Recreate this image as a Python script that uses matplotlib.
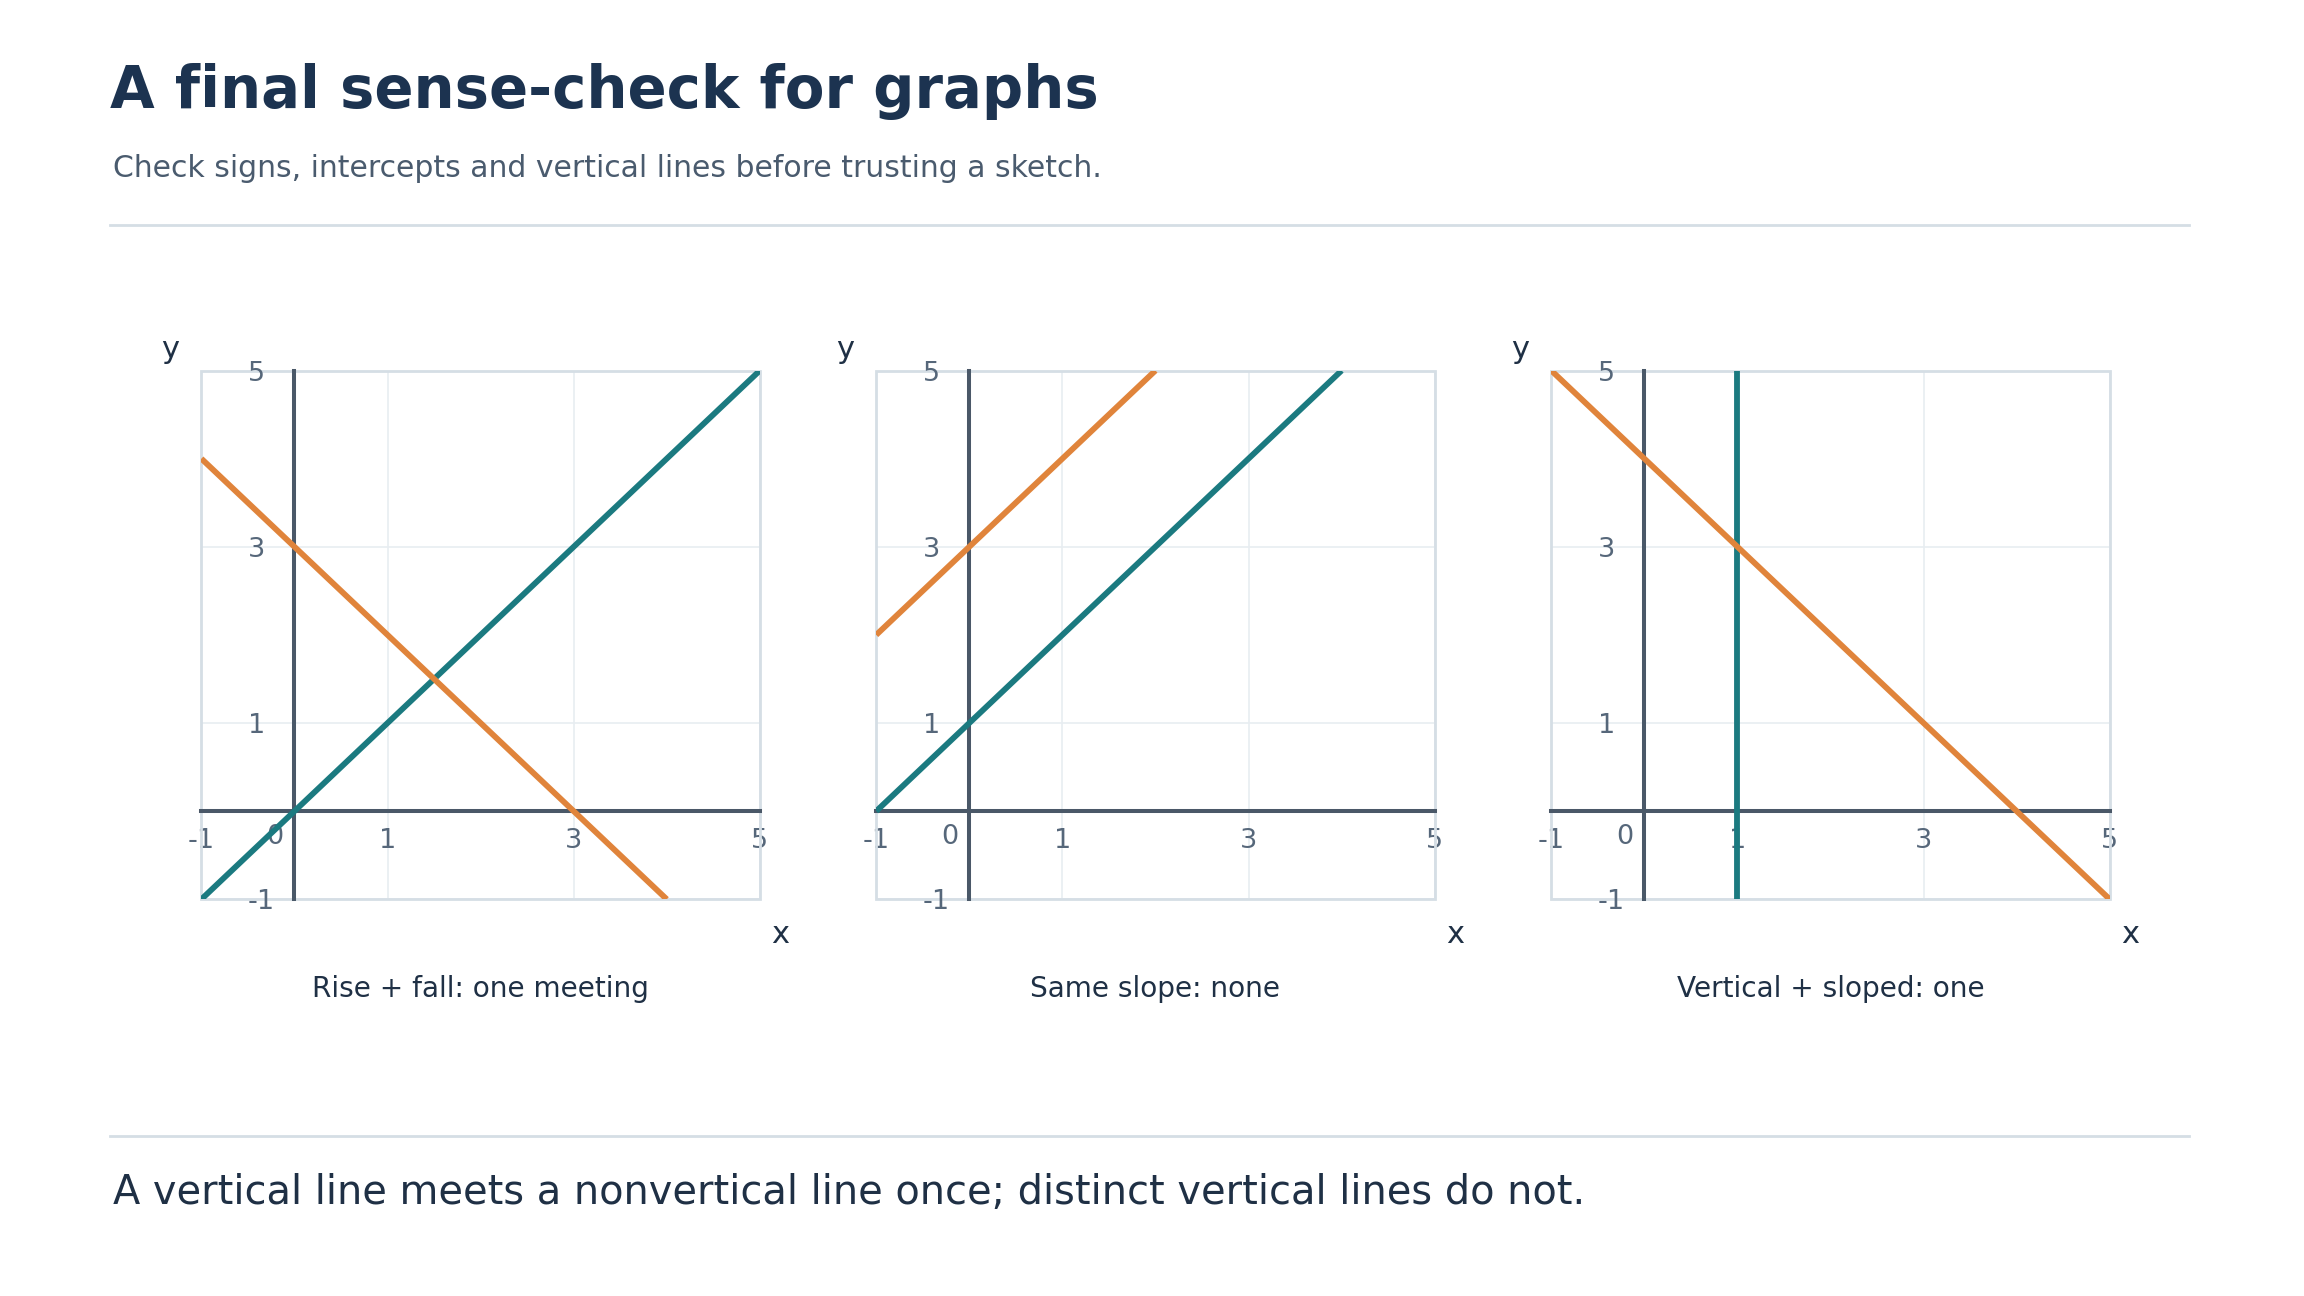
import matplotlib
matplotlib.use("Agg")
import matplotlib.pyplot as plt
from matplotlib.patches import Rectangle
from matplotlib.lines import Line2D
from matplotlib.transforms import offset_copy

# -----------------------------
# DATA
# -----------------------------
panel_titles = ["Rise + fall: one meeting", "Same slope: none", "Vertical + sloped: one"]
axis_ticks = [-1, 1, 3, 5]
tick_labels = ["-1", "1", "3", "5"]

# each panel: two straight lines given by their end points
teal_x = [[-1, 5], [-1, 4], [1, 1]]
teal_y = [[-1, 5], [0, 5], [-1, 5]]
orange_x = [[-1, 4], [-1, 2], [-1, 5]]
orange_y = [[4, -1], [2, 5], [5, -1]]

title = "A final sense-check for graphs"
subtitle = "Check signs, intercepts and vertical lines before trusting a sketch."
footer = "A vertical line meets a nonvertical line once; distinct vertical lines do not."

# -----------------------------
# STYLE
# -----------------------------
TEAL = "#1b7a80"
ORANGE = "#e0843b"
AXIS_DARK = "#4a5868"
GRID = "#e8edf1"
BORDER = "#d5dee5"
TICK = "#56677a"
TITLE_C = "#1c3350"
SUB_C = "#4a5b6e"
TEXT_C = "#1f3045"
TICK_SIZE = 19.5

plt.rcParams["font.family"] = ["DejaVu Sans"]

fig = plt.figure(figsize=(23.04, 12.96), dpi=100)

fig.text(0.0477, 0.9165, title, fontsize=41.6, fontweight="bold", color=TITLE_C, va="baseline")
fig.text(0.0492, 0.8632, subtitle, fontsize=21.5, color=SUB_C, va="baseline")
fig.text(0.0492, 0.071, footer, fontsize=28.7, color=TEXT_C, va="baseline")

fig.add_artist(Line2D([0.0477, 0.9501], [0.8264, 0.8264], color=BORDER, lw=2))
fig.add_artist(Line2D([0.0477, 0.9501], [0.1235, 0.1235], color=BORDER, lw=2))

lefts = [0.0874, 0.3803, 0.6733]
for i, left in enumerate(lefts):
    ax = fig.add_axes([left, 0.3061, 0.2424, 0.4080])
    ax.set_xlim(-1, 5)
    ax.set_ylim(-1, 5)
    ax.set_axisbelow(True)

    ax.set_xticks(axis_ticks)
    ax.set_xticklabels(tick_labels)
    ax.set_yticks(axis_ticks)
    ax.set_yticklabels([])
    ax.tick_params(axis="x", length=0, pad=11.8, labelsize=TICK_SIZE, labelcolor=TICK)
    ax.tick_params(axis="y", length=0)
    ax.grid(True, color=GRID, lw=1.2)

    # axes through the origin
    ax.spines["left"].set_position(("data", 0))
    ax.spines["bottom"].set_position(("data", 0))
    for side in ["left", "bottom"]:
        ax.spines[side].set_color(AXIS_DARK)
        ax.spines[side].set_linewidth(2.9)
    ax.spines["top"].set_visible(False)
    ax.spines["right"].set_visible(False)

    ax.add_patch(Rectangle((0, 0), 1, 1, transform=ax.transAxes, fill=False,
                           edgecolor=BORDER, lw=2, clip_on=False, zorder=1))

    # y tick labels, left aligned beside the vertical axis
    ylab_tr = offset_copy(ax.transData, fig=fig, x=-33.5, y=0, units="points")
    for v, lab in zip(axis_ticks, tick_labels):
        ax.text(0, v, lab, fontsize=TICK_SIZE, color=TICK, ha="left",
                va="center_baseline", transform=ylab_tr, zorder=1)

    ax.text(0, 0, "0", fontsize=TICK_SIZE, color=TICK, ha="center", va="center_baseline",
            transform=offset_copy(ax.transData, fig=fig, x=-14.1, y=-16.5, units="points"),
            zorder=1)

    ax.plot(teal_x[i], teal_y[i], color=TEAL, lw=4.2, zorder=3, solid_capstyle="butt")
    ax.plot(orange_x[i], orange_y[i], color=ORANGE, lw=4.2, zorder=4, solid_capstyle="butt")

    ax.text(-0.0562, 1.0233, "y", fontsize=22, color=TEXT_C, ha="center", va="baseline",
            transform=ax.transAxes)
    ax.text(1.0358, -0.0823, "x", fontsize=22, color=TEXT_C, ha="center", va="baseline",
            transform=ax.transAxes)
    ax.text(0.5, -0.1842, panel_titles[i], fontsize=20.2, color=TEXT_C, ha="center",
            va="baseline", transform=ax.transAxes)

fig.savefig("out.png", dpi=100, facecolor="white")
